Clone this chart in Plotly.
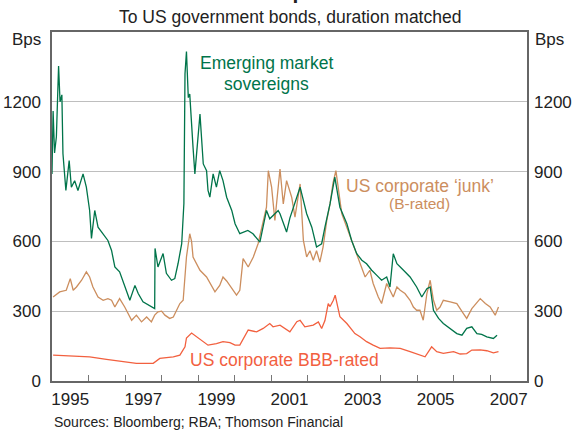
import plotly.graph_objects as go

# ---------------- data (decimal years, basis points) ----------------
em_x = [1995.00, 1995.03, 1995.07, 1995.12, 1995.18, 1995.22, 1995.27, 1995.30, 1995.38, 1995.47,
        1995.53, 1995.62, 1995.71, 1995.85, 1995.94, 1996.03, 1996.08, 1996.17, 1996.26, 1996.39,
        1996.53, 1996.63, 1996.72, 1996.85, 1996.99, 1997.13, 1997.27, 1997.36, 1997.49, 1997.68,
        1997.81, 1997.82, 1997.86, 1997.90, 1998.04, 1998.13, 1998.27, 1998.36, 1998.45, 1998.55,
        1998.61, 1998.64, 1998.68, 1998.73, 1998.77, 1998.82, 1998.86, 1998.91, 1998.96, 1999.05,
        1999.14, 1999.23, 1999.27, 1999.32, 1999.41, 1999.50, 1999.59, 1999.68, 1999.78, 1999.92,
        2000.01, 2000.14, 2000.36, 2000.50, 2000.69, 2000.77, 2000.87, 2000.96, 2001.19, 2001.24,
        2001.42, 2001.51, 2001.65, 2001.79, 2001.97, 2002.11, 2002.24, 2002.38, 2002.47, 2002.61,
        2002.74, 2002.88, 2003.07, 2003.20, 2003.34, 2003.48, 2003.61, 2003.75, 2003.89, 2004.02,
        2004.16, 2004.25, 2004.34, 2004.44, 2004.62, 2004.80, 2004.98, 2005.12, 2005.26, 2005.35,
        2005.44, 2005.58, 2005.71, 2005.90, 2006.08, 2006.22, 2006.35, 2006.49, 2006.63, 2006.76,
        2006.90, 2007.08, 2007.18]
em_y = [890, 1160, 980, 1050, 1354, 1200, 1230, 977, 819, 947,
        833, 861, 819, 890, 833, 733, 613, 733, 661, 633,
        604, 561, 490, 469, 404, 347, 411, 376, 340, 321,
        311, 570, 527, 490, 548, 463, 433, 440, 505, 590,
        763, 1320, 1416, 1218, 1233, 1076, 1004, 890, 990, 1147,
        933, 904, 819, 790, 890, 833, 904, 861, 790, 733,
        676, 633, 647, 633, 597, 661, 733, 697, 733, 719,
        640, 700, 762, 833, 719, 661, 576, 590, 661, 762,
        876, 747, 676, 604, 547, 519, 504, 476, 454, 433,
        447, 404, 547, 504, 476, 447, 404, 361, 397, 404,
        304, 269, 247, 226, 204, 197, 226, 233, 204, 200,
        190, 183, 197]

junk_x = [1995.03, 1995.21, 1995.39, 1995.50, 1995.58, 1995.67, 1995.81, 1995.94, 1996.03, 1996.12,
          1996.26, 1996.40, 1996.53, 1996.63, 1996.72, 1996.85, 1996.99, 1997.08, 1997.18, 1997.31,
          1997.45, 1997.59, 1997.72, 1997.81, 1997.90, 1998.00, 1998.09, 1998.22, 1998.32, 1998.41,
          1998.50, 1998.59, 1998.64, 1998.68, 1998.77, 1998.82, 1998.86, 1998.96, 1999.05, 1999.23,
          1999.37, 1999.46, 1999.59, 1999.68, 1999.78, 1999.92, 2000.05, 2000.14, 2000.23, 2000.37,
          2000.51, 2000.64, 2000.74, 2000.87, 2000.92, 2001.01, 2001.10, 2001.24, 2001.33, 2001.42,
          2001.56, 2001.65, 2001.79, 2001.88, 2001.97, 2002.06, 2002.15, 2002.24, 2002.33, 2002.42,
          2002.52, 2002.61, 2002.69, 2002.77, 2002.93, 2003.07, 2003.20, 2003.34, 2003.48, 2003.57,
          2003.70, 2003.79, 2003.93, 2004.02, 2004.16, 2004.25, 2004.34, 2004.44, 2004.53, 2004.66,
          2004.80, 2004.89, 2004.98, 2005.07, 2005.16, 2005.26, 2005.35, 2005.44, 2005.53, 2005.62,
          2005.71, 2005.90, 2006.08, 2006.26, 2006.35, 2006.49, 2006.63, 2006.72, 2006.86, 2006.99,
          2007.13, 2007.22]
junk_y = [361, 383, 390, 440, 390, 404, 433, 469, 447, 404,
          361, 347, 354, 347, 318, 354, 318, 290, 261, 283,
          254, 275, 254, 283, 297, 300, 283, 269, 275, 304,
          333, 347, 433, 533, 633, 600, 533, 504, 476, 447,
          404, 383, 411, 447, 430, 397, 369, 390, 526, 490,
          533, 590, 661, 747, 904, 833, 690, 911, 761, 861,
          790, 704, 847, 604, 533, 560, 519, 560, 511, 576,
          690, 761, 850, 904, 719, 661, 604, 547, 490, 447,
          476, 419, 361, 333, 419, 390, 361, 404, 390, 376,
          347, 318, 304, 304, 261, 376, 433, 347, 304, 318,
          347, 340, 333, 290, 269, 311, 340, 354, 333, 318,
          283, 318]

bbb_x = [1995.03, 1995.58, 1996.03, 1996.49, 1996.95, 1997.31, 1997.77, 1997.95, 1998.32, 1998.50,
         1998.64, 1998.68, 1998.82, 1998.96, 1999.14, 1999.27, 1999.50, 1999.68, 1999.87, 2000.01,
         2000.14, 2000.28, 2000.37, 2000.60, 2000.78, 2000.96, 2001.05, 2001.24, 2001.38, 2001.51,
         2001.70, 2001.79, 2001.92, 2002.15, 2002.29, 2002.38, 2002.47, 2002.56, 2002.61, 2002.70,
         2002.75, 2002.84, 2002.88, 2003.07, 2003.29, 2003.43, 2003.61, 2003.79, 2003.98, 2004.25,
         2004.53, 2004.80, 2005.07, 2005.21, 2005.39, 2005.53, 2005.71, 2005.99, 2006.17, 2006.35,
         2006.49, 2006.72, 2006.90, 2007.08, 2007.22]
bbb_y = [111, 107, 104, 93, 83, 76, 76, 97, 104, 111,
         147, 185, 206, 190, 169, 154, 161, 169, 165, 154,
         154, 197, 219, 211, 226, 247, 233, 240, 226, 211,
         255, 261, 233, 240, 254, 226, 260, 333, 320, 347,
         369, 304, 276, 247, 204, 190, 169, 154, 140, 142,
         140, 126, 111, 104, 147, 126, 119, 126, 116, 118,
         133, 134, 130, 121, 126]

year_label_pos = [1995.5, 1997.5, 1999.5, 2001.5, 2003.5, 2005.5, 2007.5]
year_labels = ["1995", "1997", "1999", "2001", "2003", "2005", "2007"]
year_ticks = [1996, 1997, 1998, 1999, 2000, 2001, 2002, 2003, 2004, 2005, 2006, 2007]
y_ticks = [0, 300, 600, 900, 1200]

# ---------------- styling ----------------
FONT = "Arial, Liberation Sans, sans-serif"
GREEN = "#00744A"
TAN = "#CC8E5E"
RED = "#F2603F"
TXT = "#222222"

fig = go.Figure()
fig.add_trace(go.Scatter(x=junk_x, y=junk_y, mode="lines",
                         line=dict(color=TAN, width=1.3), hoverinfo="skip"))
fig.add_trace(go.Scatter(x=em_x, y=em_y, mode="lines",
                         line=dict(color=GREEN, width=1.3), hoverinfo="skip"))
fig.add_trace(go.Scatter(x=bbb_x, y=bbb_y, mode="lines", yaxis="y2",
                         line=dict(color=RED, width=1.3), hoverinfo="skip"))

axis_line = "#666666"
fig.update_layout(
    width=575, height=431,
    margin=dict(l=52, r=48, t=32, b=50, autoexpand=False),
    paper_bgcolor="white", plot_bgcolor="white",
    showlegend=False,
    font=dict(family=FONT, size=17, color=TXT),
    xaxis=dict(range=[1995, 2008], tickmode="array", tickvals=year_label_pos,
               ticktext=year_labels, ticks="", showgrid=False, zeroline=False,
               showline=True, linecolor=axis_line, linewidth=1.5, mirror=True,
               automargin=False,
               tickfont=dict(size=17, color=TXT), ticklabelstandoff=2,
               minor=dict(tickmode="array", tickvals=year_ticks, ticks="inside",
                          ticklen=6, tickwidth=1, tickcolor="#777777", showgrid=False)),
    yaxis=dict(range=[0, 1500], tickmode="array", tickvals=y_ticks, ticks="",
               showgrid=True, gridcolor="#BEBEBE", gridwidth=1, zeroline=False,
               showline=True, linecolor=axis_line, linewidth=1.5, mirror=True,
               automargin=False,
               tickfont=dict(size=17, color=TXT), ticklabelstandoff=6),
    yaxis2=dict(range=[0, 1500], tickmode="array", tickvals=y_ticks, ticks="",
                overlaying="y", side="right", showgrid=False, zeroline=False,
                showline=False, automargin=False,
                tickfont=dict(size=17, color=TXT), ticklabelstandoff=6),
)

ann = [
    dict(text="<b>Bond Spreads</b>", x=0.5, y=1.117, xref="paper", yref="paper",
         xanchor="center", yanchor="middle", showarrow=False,
         font=dict(size=21, color=TXT)),
    dict(text="To US government bonds, duration matched", x=0.5, y=1.043,
         xref="paper", yref="paper", xanchor="center", yanchor="middle",
         showarrow=False, font=dict(size=17.5, color=TXT)),
    dict(text="Bps", x=-0.02, y=0.978, xref="paper", yref="paper",
         xanchor="right", yanchor="middle", showarrow=False, font=dict(size=17, color=TXT)),
    dict(text="Bps", x=1.013, y=0.978, xref="paper", yref="paper",
         xanchor="left", yanchor="middle", showarrow=False, font=dict(size=17, color=TXT)),
    dict(text="Sources: Bloomberg; RBA; Thomson Financial", x=0.0, y=-0.117,
         xref="paper", yref="paper", xanchor="left", yanchor="middle",
         showarrow=False, font=dict(size=14, color=TXT)),
    dict(text="Emerging market", x=2000.87, y=1368, xref="x", yref="y",
         xanchor="center", yanchor="middle", showarrow=False,
         font=dict(size=17.5, color=GREEN)),
    dict(text="sovereigns", x=2000.87, y=1276, xref="x", yref="y",
         xanchor="center", yanchor="middle", showarrow=False,
         font=dict(size=17.5, color=GREEN)),
    dict(text="US corporate ‘junk’", x=2005.07, y=840, xref="x", yref="y",
         xanchor="center", yanchor="middle", showarrow=False,
         font=dict(size=17.5, color=TAN)),
    dict(text="(B-rated)", x=2005.05, y=764, xref="x", yref="y",
         xanchor="center", yanchor="middle", showarrow=False,
         font=dict(size=15.5, color=TAN)),
    dict(text="US corporate BBB-rated", x=1998.73, y=90, xref="x", yref="y",
         xanchor="left", yanchor="middle", showarrow=False,
         font=dict(size=17.5, color=RED)),
]
fig.update_layout(annotations=ann)

fig.write_html("out.html", config={"displayModeBar": False},
               post_script="document.body.style.margin='0';document.body.style.padding='0';")
